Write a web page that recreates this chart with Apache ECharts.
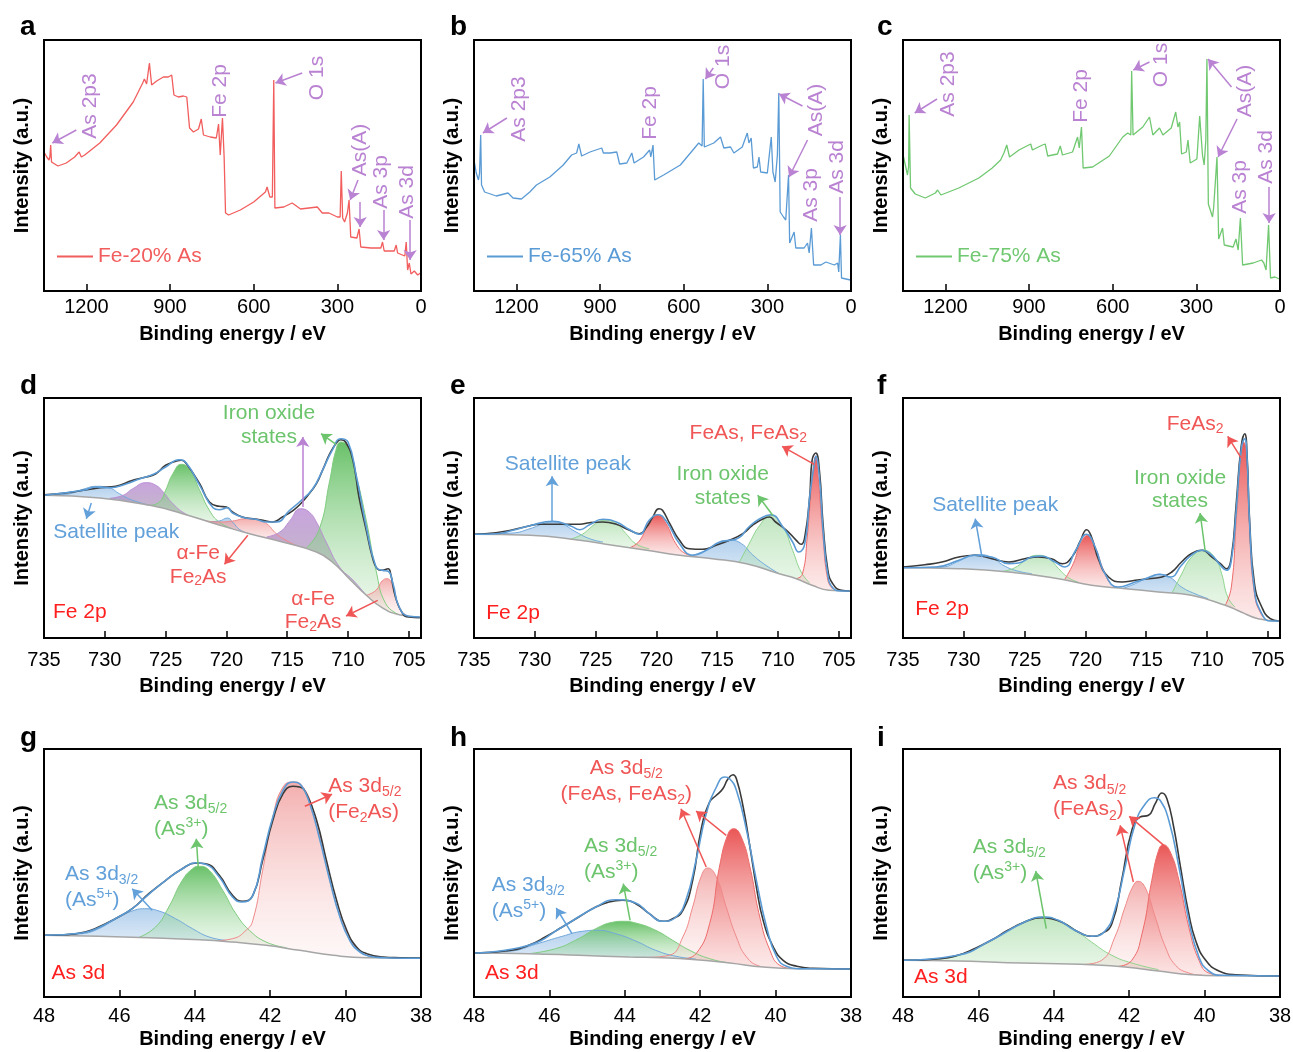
<!DOCTYPE html>
<html>
<head>
<meta charset="utf-8">
<title>XPS spectra</title>
<script src="https://cdn.jsdelivr.net/npm/echarts@6/dist/echarts.min.js"></script>
<style>
html, body { margin: 0; padding: 0; background: #fff; }
#main { width: 1293px; height: 1052px; }
</style>
</head>
<body>
<div id="main"></div>
<script>
// tick values
var surveyTicks = [0, 300, 600, 900, 1200];
var fe2pTicks = [705, 710, 715, 720, 725, 730, 735];
var as3dTicks = [38, 40, 42, 44, 46, 48];

// survey spectra  [binding energy eV, intensity a.u.]
var surveyA = [[1350,138],[1342,134],[1334,131],[1331,134],[1328,146],[1325,129],[1318,127],[1302,125],[1272,128],[1242,134],[1226,139],[1218,134],[1206,136],[1152,148],[1092,166],[1032,189],[998,208],[992,212],[984,207],[974,228],[966,206],[948,210],[924,214],[906,214],[894,216],[886,196],[870,194],[852,195],[840,194],[830,163],[816,159],[798,162],[788,172],[780,156],[756,154],[734,153],[726,167],[720,136],[712,173],[706,134],[701,78],[690,76],[648,81],[600,89],[558,99],[552,104],[542,94],[533,94],[528,211],[524,83],[492,84],[462,88],[432,82],[372,84],[354,78],[330,78],[300,74],[290,74],[286,120],[281,73],[274,69],[264,78],[258,91],[252,54],[230,53],[222,62],[216,44],[180,43],[144,43],[138,49],[132,40],[96,40],[89,46],[84,38],[58,35],[53,49],[48,21],[42,28],[36,17],[24,20],[12,16],[2,18]];
var surveyB = [[1350,128],[1344,118],[1336,111],[1332,118],[1328,156],[1325,106],[1314,99],[1272,95],[1230,98],[1224,99],[1212,93],[1182,92],[1152,99],[1128,106],[1080,114],[1032,126],[1002,136],[984,138],[976,147],[966,135],[936,139],[894,143],[888,138],[864,138],[840,139],[830,127],[804,128],[786,138],[778,128],[744,134],[722,141],[718,134],[710,146],[704,111],[672,116],[612,126],[558,144],[546,148],[534,145],[530,212],[526,144],[492,148],[468,154],[456,143],[432,144],[420,138],[390,144],[372,158],[366,148],[358,153],[350,123],[336,124],[330,134],[324,119],[300,118],[286,154],[280,119],[272,109],[264,136],[259,198],[254,79],[242,74],[234,71],[224,116],[220,48],[204,59],[198,43],[168,43],[156,48],[150,38],[142,63],[134,26],[108,26],[90,29],[60,26],[48,28],[44,19],[38,56],[34,13],[18,12],[2,11]];
var surveyC = [[1350,134],[1342,124],[1336,116],[1332,124],[1330,176],[1325,103],[1308,97],[1272,93],[1236,98],[1228,101],[1216,96],[1152,103],[1080,113],[1032,123],[1002,131],[990,138],[980,146],[970,134],[936,141],[894,147],[888,141],[852,146],[842,147],[833,135],[798,137],[788,145],[780,136],[744,139],[726,154],[720,143],[712,164],[706,123],[672,124],[612,135],[564,154],[546,158],[535,156],[532,220],[527,156],[492,164],[468,174],[456,156],[432,163],[420,156],[390,163],[374,179],[366,164],[360,169],[353,137],[336,139],[330,151],[322,128],[298,132],[288,175],[278,136],[272,126],[266,151],[262,232],[257,87],[242,74],[238,83],[233,84],[226,134],[220,52],[206,63],[200,46],[168,44],[158,52],[150,41],[142,73],[134,26],[96,28],[66,31],[58,28],[50,21],[41,66],[34,13],[18,14],[2,12]];

// Fe 2p, Fe-20% As
var fe2pD_bg = [[735,142.7],[730.4,140],[726.3,132.7],[723.6,124.3],[720.8,113.7],[718.1,104.3],[715.4,96],[712.6,86],[711.3,76],[709.9,59.3],[708.5,42.7],[707.2,30.3],[705.8,23.3],[704,21]];
var fe2pD_exp = [[735,143.3],[733.2,145],[730.4,150.3],[729.1,151.7],[727.7,157.7],[726.6,161],[725.8,164.3],[725,172.7],[724.1,177],[723.7,177.7],[723.3,174.3],[722.2,154.3],[721.4,136],[720.6,131.7],[720,131],[719.5,126],[718.7,121],[717.8,119.3],[717,117.7],[716.2,116],[715.4,121],[714.5,127.7],[713.9,134.3],[713.2,144.3],[712.6,154.3],[712.1,167.7],[711.5,184.3],[711,194.3],[710.6,198.3],[710.2,196],[709.6,177.7],[709.1,141],[708.5,107.7],[708,81],[707.6,69.3],[707.2,67.7],[706.7,69.3],[706.5,64.3],[706.1,41],[705.5,24.3],[705,21],[704.1,20.3]];
var fe2pD_env = [[735,142.7],[731.8,147.7],[730.7,151],[729.6,150.3],[728.2,154.3],[727.1,159.3],[726,163.7],[725,171],[723.9,178.3],[723.3,175],[722.2,152.7],[721.1,130.3],[720.6,128.3],[719.9,130.3],[719.5,125],[718.4,120],[717.6,118.7],[716.7,116],[715.9,116],[714.8,127.7],[713.9,137],[712.9,149.3],[712.1,167.7],[711.3,187.7],[710.6,199.3],[710,196],[709.3,161],[708.5,111],[707.7,71],[707.2,67.7],[706.7,66.7],[706.3,54.3],[705.8,31],[705,21.7],[704.1,21]];
var fe2pD_sat = [[735,142.7],[733.2,143.7],[731.8,148.7],[730.7,151.7],[729.6,150],[728.8,144.3],[727.7,137.7],[726.3,132.7]];
var fe2pD_ox1 = [[729.6,139.7],[728.5,142.7],[727.7,149.3],[726.6,155.3],[725.8,152.7],[725.2,146],[724.4,134.3],[723.3,123.7],[722.2,119],[720.8,113.7]];
var fe2pD_ox2 = [[726.3,132.7],[725.5,136],[725,147.7],[724.4,164.3],[723.7,173.7],[723,167.7],[722.2,147.7],[721.4,127.7],[720.6,116],[719.5,109.3]];
var fe2pD_sat2 = [[721.4,116.3],[720.6,117],[719.9,120],[719.5,116],[718.9,108.3],[718.1,104.3]];
var fe2pD_fe1 = [[722.2,119],[720.8,116],[719.5,117],[718.4,119.3],[717.6,119],[716.7,114.3],[715.9,104.3],[715.1,97.7],[714,91]];
var fe2pD_ox3 = [[716.7,101],[715.6,106],[714.8,117],[713.9,129.3],[713.2,126],[712.6,116],[711.8,96],[710.7,71],[709.6,58],[708.5,42.7]];
var fe2pD_ox4 = [[713.5,89],[712.4,107.7],[711.5,157.7],[711,187.7],[710.6,196],[710,191],[709.3,161],[708.5,117.7],[707.7,67.7],[706.9,34.3],[705.8,23.3]];
var fe2pD_fe2 = [[708.5,42.7],[707.7,47.7],[707.2,57],[706.8,59.3],[706.3,51],[705.8,30.3],[705.2,22.7],[704.7,21]];

// Fe 2p, Fe-65% As
var fe2pE_bg = [[735,103.7],[730.4,102.7],[726.3,97.7],[723.6,92.7],[720.8,87.7],[718.1,82.7],[715.4,79.3],[712.6,74.3],[709.9,64.3],[708.5,59.3],[707.2,52.7],[705.8,47.7],[704.1,47]];
var fe2pE_exp = [[735,103.7],[733.2,105.3],[731.8,108.3],[730.4,112.3],[729.6,113.7],[728.5,113.7],[727.1,113.7],[726.3,113.7],[725.5,115.3],[724.4,116],[723.3,113.7],[722.2,107.7],[721.4,104.3],[720.8,111],[720.3,121],[719.8,129.3],[719.5,127.7],[718.9,114.3],[718.1,97.7],[717.3,89.3],[716.2,88.7],[715.1,92.7],[714,97.7],[712.9,104.3],[712.1,112.7],[711.3,118.7],[710.7,121],[710.2,116],[709.3,107.7],[708.5,97.7],[708.1,93.7],[707.8,101],[707.4,141],[707.2,177.7],[706.9,185],[706.6,167.7],[706.3,114.3],[705.9,67.7],[705.5,54.3],[704.8,47.7],[704.1,47]];
var fe2pE_env = [[735,103.7],[733.2,104.3],[731.8,107.7],[730.4,112.3],[728.5,116.7],[727.1,112.3],[726.3,108.3],[725.5,113.3],[724.4,118.7],[723.3,116],[722.2,108.3],[721.4,103.7],[720.6,117.7],[719.9,123.3],[719.2,117],[718.1,94.3],[717,82.7],[715.9,87.7],[714.8,96],[714,97.7],[713.2,100.3],[712.4,111],[711.5,119.3],[710.6,123.3],[709.6,111],[708.8,96],[708.3,86],[707.8,94.3],[707.4,141],[707,176],[706.9,181.7],[706.6,161],[706.3,107.7],[705.9,62.7],[705.5,50.3],[704.8,47],[704.1,47]];
var fe2pE_sat = [[734.5,103.7],[731.8,105],[730.4,109.3],[729.3,114.3],[728.6,116],[727.7,113.7],[726.6,106],[725.5,99.3],[724.4,96]];
var fe2pE_ox1 = [[727.1,98.7],[726.1,103.7],[725,114.3],[724.3,117.7],[723.3,114.3],[722.5,104.3],[721.7,94.3],[720.6,89.3]];
var fe2pE_fe1 = [[722.2,90.3],[721.4,97],[720.6,116],[719.9,123.3],[719.2,114.3],[718.4,94.3],[717.6,84.3],[716.7,81.7]];
var fe2pE_sat2 = [[717.3,81.7],[715.9,87.7],[714.8,95],[713.9,97.7],[713,94.3],[712.1,83.3],[711,72.7],[709.9,64.3]];
var fe2pE_ox2 = [[713.2,75.3],[712.4,93.7],[711.5,112.7],[710.6,122.7],[709.6,111],[708.8,87.7],[708.1,66],[707.4,55]];
var fe2pE_fe2 = [[708.5,59.3],[708,63.7],[707.6,101],[707.2,157.7],[706.9,181.7],[706.7,161],[706.3,101],[705.9,57.7],[705.5,49]];

// Fe 2p, Fe-75% As
var fe2pF_bg = [[735,70.3],[730.4,69.3],[726.3,66],[722.2,59.3],[719.5,52.7],[716.7,49.3],[714,46],[711.3,42.7],[708.5,32.7],[707.2,26],[705.8,19.3],[704.1,17]];
var fe2pF_exp = [[735,71],[733.2,73.3],[731.8,76],[730.4,81],[729.1,82.7],[727.7,79.3],[726.3,76],[725,79.3],[723.9,81],[722.8,79.3],[721.9,74.3],[721.1,81],[720.4,97.7],[719.9,108.3],[719.5,101],[718.9,77.7],[718.1,61],[717,56],[715.9,57.7],[714.8,59.3],[713.7,61],[712.9,66],[712.1,76],[711.3,84.3],[710.4,87.7],[709.6,81],[708.9,74.3],[708.4,69.3],[708,81],[707.6,134.3],[707.2,191],[706.9,204.3],[706.7,181],[706.5,117.7],[706.1,54.3],[705.5,31],[704.8,19.3],[704.1,17]];
var fe2pF_env = [[735,70.3],[732.3,71],[730.4,77.7],[729.1,82.7],[727.7,81],[726.3,74.3],[725.5,75],[724.4,81],[723.6,82],[722.5,76],[721.7,71],[720.8,87.7],[719.9,103.7],[719.2,91],[718.4,64.3],[717.3,51],[715.9,56],[714.8,60.3],[713.9,63.7],[713,61],[712.1,72.7],[711.3,82.7],[710.4,87.7],[709.6,82.7],[708.9,72.7],[708.4,67.7],[708,77.7],[707.6,127.7],[707.2,187.7],[706.9,199.3],[706.7,177.7],[706.5,114.3],[706.1,47.7],[705.5,24.3],[704.8,17],[704.1,17]];
var fe2pF_sat = [[734.5,70.3],[731.8,71],[730.4,77],[729.5,82.3],[728.6,83.3],[727.7,80.3],[726.6,71.7],[725.5,66.7],[724.4,64.3]];
var fe2pF_ox1 = [[726.9,66.5],[725.8,70.3],[724.7,80],[723.9,82.7],[723,79.3],[722.2,69.3],[721.4,60.3],[720.6,56]];
var fe2pF_fe1 = [[721.7,58.7],[721,74.3],[720.4,94.3],[719.8,102.7],[719.2,91],[718.5,67.7],[717.8,52.7],[717,49.3]];
var fe2pF_sat2 = [[717,49.3],[715.9,54.3],[714.8,61],[713.9,63.7],[713,60.3],[712.1,51],[711,44.3],[709.9,39.3]];
var fe2pF_ox2 = [[712.9,44.3],[712.1,63.7],[711.3,80.3],[710.3,87.7],[709.3,79.3],[708.8,64.3],[708.3,41],[707.7,31]];
var fe2pF_fe2 = [[708.5,32.7],[708,51],[707.6,117.7],[707.2,181],[707,196],[706.7,177.7],[706.5,111],[706.1,44.3],[705.5,22.7],[705,17.7]];

// As 3d, Fe-20% As
var as3dG_bg = [[48,61.7],[46.55,60.7],[45.22,59.3],[43.88,57.3],[43,55],[42.11,51.7],[41.22,46.7],[40.33,41.7],[39.44,39.3],[38,39]];
var as3dG_exp = [[48,61.7],[47.44,62.3],[46.91,65],[46.55,70],[46.11,78.3],[45.66,88.3],[45.22,103.3],[44.77,116.7],[44.33,128.3],[43.97,134],[43.71,133.3],[43.35,121.7],[43,101.7],[42.73,95.7],[42.46,101.7],[42.2,136.7],[41.93,176.7],[41.66,203.3],[41.4,210.7],[41.22,210],[41.04,203.3],[40.77,176.7],[40.51,136.7],[40.24,96.7],[39.97,66.7],[39.71,50],[39.44,43.3],[39,40],[38.55,39.3],[38,39]];
var as3dG_env = [[48,61.7],[47,64],[46.55,69.3],[46.11,78.3],[45.66,88.3],[45.22,102.7],[44.77,116.7],[44.33,128.3],[43.97,134.3],[43.71,132.7],[43.35,120],[43,100],[42.75,95],[42.46,101.7],[42.2,140],[41.93,180],[41.66,206.7],[41.4,215],[41.18,211.7],[40.95,193.3],[40.68,156.7],[40.42,116.7],[40.15,80],[39.89,56.7],[39.62,45],[39.35,40.7],[39,39.3],[38,38.7]];
var as3dG_as5 = [[47.88,61.7],[47,63.3],[46.55,68.3],[46.11,78],[45.66,86],[45.33,88.3],[44.95,86],[44.51,78.3],[44.06,68.3],[43.62,60],[43.18,56.7]];
var as3dG_as3 = [[45.48,59.7],[45.04,70],[44.69,90],[44.33,116.7],[44.06,128.3],[43.88,130.7],[43.62,126.7],[43.26,106.7],[42.91,83.3],[42.55,66.7],[42.11,55],[41.57,49.3]];
var as3dG_fe2as = [[43.53,56],[43,58.3],[42.64,66.7],[42.46,76.7],[42.2,126.7],[41.93,180],[41.66,210],[41.38,215],[41.13,210],[40.86,186.7],[40.59,146.7],[40.33,103.3],[40.06,73.3],[39.8,53.3],[39.44,41.7],[39,39.3]];

// As 3d, Fe-65% As
var as3dH_bg = [[48,44],[46.55,43.3],[45.22,41.7],[43.88,40],[43,39.3],[42.11,37.3],[41.22,34],[40.33,30],[39.44,28.3],[38,28]];
var as3dH_exp = [[48,44],[47,46.7],[46.55,51.7],[46.11,60],[45.66,70],[45.22,80],[44.77,90],[44.42,95],[44.06,96.7],[43.71,93.3],[43.35,83.3],[43,75.7],[42.73,78.3],[42.46,86.7],[42.2,116.7],[41.98,166.7],[41.75,195],[41.57,201.7],[41.4,208.3],[41.26,218.3],[41.13,222.3],[41.04,218.3],[40.86,190],[40.68,150],[40.51,110],[40.33,76.7],[40.06,50],[39.8,36.7],[39.44,30.7],[39,28.7],[38,28]];
var as3dH_env = [[48,44],[46.55,51.7],[45.66,70],[44.77,90],[44.24,97.3],[43.71,94],[43.35,83.3],[43,75.7],[42.64,80],[42.38,96.7],[42.11,136.7],[41.84,183.3],[41.57,210],[41.35,220],[41.22,218.3],[41.04,206.7],[40.77,166.7],[40.51,116.7],[40.24,70],[39.97,40],[39.71,30.7],[39.35,28.3],[38,28]];
var as3dH_as5 = [[47.88,44],[47,46],[46.37,52.7],[45.66,60.7],[45.13,65.7],[44.73,66.7],[44.24,63.3],[43.71,56],[43.18,46.7],[42.64,40.7],[42.11,38]];
var as3dH_as3 = [[46.55,43.3],[45.84,48.3],[45.31,56.7],[44.77,68.3],[44.33,74.7],[44.06,75.7],[43.71,74],[43.18,66.7],[42.73,56.7],[42.28,46.7],[41.75,38.3],[41.22,34]];
var as3dH_feas1 = [[43.35,39.7],[42.82,41.7],[42.46,60],[42.2,90],[41.98,120],[41.8,129],[41.57,120],[41.31,90],[41.04,60],[40.77,40],[40.42,30.7],[40.06,28.3]];
var as3dH_feas2 = [[42.46,38],[42.11,43.3],[41.75,73.3],[41.49,130],[41.26,163.3],[41.11,168.3],[40.91,160],[40.68,130],[40.42,80],[40.15,46.7],[39.89,31.7],[39.53,28.3]];

// As 3d, Fe-75% As
var as3dI_bg = [[48,36.7],[46.55,36],[45.22,34.3],[43.88,33.3],[43,32.3],[42.11,30],[41.22,26],[40.33,22.3],[39.44,21.3],[38,21]];
var as3dI_exp = [[48,36.7],[47,38.3],[46.55,41.7],[46.11,48.3],[45.66,56.7],[45.22,66.7],[44.77,75],[44.33,79.3],[44.06,78.3],[43.71,73.3],[43.35,65],[43,60.7],[42.73,63.3],[42.46,73.3],[42.2,116.7],[41.93,166.7],[41.71,180],[41.49,181.7],[41.31,193.3],[41.13,204],[41,198.3],[40.82,170],[40.64,130],[40.42,83.3],[40.24,56.7],[39.97,36.7],[39.62,26],[39.17,22.3],[38,21]];
var as3dI_env = [[48,36.7],[46.55,41.7],[45.66,56.7],[44.77,75],[44.29,80],[43.88,76.7],[43.44,66.7],[43,60.7],[42.64,66],[42.38,86.7],[42.11,130],[41.84,173.3],[41.57,193.3],[41.33,199.3],[41.18,196.7],[40.95,176.7],[40.68,130],[40.42,76.7],[40.15,40],[39.89,26],[39.53,21.7],[38,21]];
var as3dI_as3 = [[47.88,36.7],[47,38.7],[46.37,43.3],[45.66,56.7],[45.04,70],[44.6,78],[44.27,80],[43.88,76.7],[43.44,67.3],[43,55],[42.46,41.7],[41.93,34],[41.22,27.3]];
var as3dI_feas1 = [[43.18,32.7],[42.73,36.7],[42.38,60],[42.11,90],[41.91,110],[41.77,115.7],[41.57,109],[41.31,80],[41.04,50],[40.77,31.7],[40.42,24],[40.06,21.7]];
var as3dI_feas2 = [[42.28,30.7],[41.93,36.7],[41.66,63.3],[41.4,116.7],[41.22,146.7],[41.1,152.3],[40.91,145],[40.68,116.7],[40.42,70],[40.15,36.7],[39.89,24],[39.53,21.7]];

var PURPLE = '#b982d2', GREEN_T = '#6cc46c', BLUE_T = '#62a0da', RED_T = '#f05656', PANEL_RED = '#ff1f1f';

// annotations: [panel, energy, intensity, text, colour, align, rotate]
var notes = [
    [0, 1188, 185, 'As 2p3', PURPLE, 'center', 90],
    [0, 720, 200, 'Fe 2p', PURPLE, 'center', 90],
    [0, 372, 213, 'O 1s', PURPLE, 'center', 90],
    [0, 218, 141, 'As(A)', PURPLE, 'center', 90],
    [0, 144, 109, 'As 3p', PURPLE, 'center', 90],
    [0, 48, 99, 'As 3d', PURPLE, 'center', 90],
    [1, 1190, 182, 'As 2p3', PURPLE, 'center', 90],
    [1, 720, 178, 'Fe 2p', PURPLE, 'center', 90],
    [1, 458, 224, 'O 1s', PURPLE, 'center', 90],
    [1, 126, 181, 'As(A)', PURPLE, 'center', 90],
    [1, 144, 96, 'As 3p', PURPLE, 'center', 90],
    [1, 48, 124, 'As 3d', PURPLE, 'center', 90],
    [2, 1190, 207, 'As 2p3', PURPLE, 'center', 90],
    [2, 714, 195, 'Fe 2p', PURPLE, 'center', 90],
    [2, 426, 226, 'O 1s', PURPLE, 'center', 90],
    [2, 126, 200, 'As(A)', PURPLE, 'center', 90],
    [2, 144, 104, 'As 3p', PURPLE, 'center', 90],
    [2, 48, 134, 'As 3d', PURPLE, 'center', 90],
    [3, 716.5, 212.7, 'Iron oxide\nstates', GREEN_T, 'center'],
    [3, 729.06, 106, 'Satellite peak', BLUE_T, 'center'],
    [3, 722.32, 73, '\u03b1-Fe\nFe{sub|2}As', RED_T, 'center'],
    [3, 712.87, 27.5, '\u03b1-Fe\nFe{sub|2}As', RED_T, 'center'],
    [3, 734.26, 26, 'Fe 2p', PANEL_RED, 'left'],
    [4, 727.28, 173.3, 'Satellite peak', BLUE_T, 'center'],
    [4, 712.44, 205, 'FeAs, FeAs{sub|2}', RED_T, 'center'],
    [4, 714.55, 152, 'Iron oxide\nstates', GREEN_T, 'center'],
    [4, 734.0, 25, 'Fe 2p', PANEL_RED, 'left'],
    [5, 710.98, 213.7, 'FeAs{sub|2}', RED_T, 'center'],
    [5, 712.22, 148.3, 'Iron oxide\nstates', GREEN_T, 'center'],
    [5, 727.42, 132.7, 'Satellite peak', BLUE_T, 'center'],
    [5, 734.0, 28.3, 'Fe 2p', PANEL_RED, 'left'],
    [6, 47.44, 110, 'As 3d{sub|3/2}\n(As{sup|5+})', BLUE_T, 'left'],
    [6, 45.08, 180.7, 'As 3d{sub|5/2}\n(As{sup|3+})', GREEN_T, 'left'],
    [6, 40.46, 198, 'As 3d{sub|5/2}\n(Fe{sub|2}As)', RED_T, 'left'],
    [6, 47.8, 23.3, 'As 3d', PANEL_RED, 'left'],
    [7, 43.96, 215.8, 'As 3d{sub|5/2}\n(FeAs, FeAs{sub|2})', RED_T, 'center'],
    [7, 45.08, 137.8, 'As 3d{sub|5/2}\n(As{sup|3+})', GREEN_T, 'left'],
    [7, 47.53, 99.2, 'As 3d{sub|3/2}\n(As{sup|5+})', BLUE_T, 'left'],
    [7, 47.71, 23.3, 'As 3d', PANEL_RED, 'left'],
    [8, 44.02, 200.3, 'As 3d{sub|5/2}\n(FeAs{sub|2})', RED_T, 'left'],
    [8, 46.15, 136.7, 'As 3d{sub|5/2}\n(As{sup|3+})', GREEN_T, 'left'],
    [8, 47.71, 20, 'As 3d', PANEL_RED, 'left']
];

// arrows: [panel, from E, from y, to E, to y, colour]
var arrows = [
    [0, 1236, 161, 1322, 148, PURPLE], [0, 426, 218, 522, 208, PURPLE], [0, 226, 111, 254, 91, PURPLE],
    [0, 218, 89, 218, 64, PURPLE], [0, 134, 81, 134, 51, PURPLE], [0, 39, 71, 39, 31, PURPLE],
    [1, 1234, 173, 1320, 158, PURPLE], [1, 494, 223, 522, 212, PURPLE], [1, 174, 185, 258, 197, PURPLE],
    [1, 156, 151, 222, 114, PURPLE], [1, 39, 94, 39, 56, PURPLE],
    [2, 1230, 192, 1310, 178, PURPLE], [2, 468, 229, 526, 221, PURPLE], [2, 174, 204, 258, 232, PURPLE],
    [2, 154, 172, 222, 134, PURPLE], [2, 39, 104, 39, 68, PURPLE],
    [3, 710.99, 193.7, 712.22, 204.3, GREEN_T], [3, 713.72, 131, 713.72, 201, PURPLE],
    [3, 731.11, 135, 731.52, 119.3, BLUE_T], [3, 718.24, 102.7, 720.16, 73.7, RED_T],
    [3, 707.56, 37.7, 710.16, 22, RED_T],
    [4, 728.57, 116, 728.57, 161.7, BLUE_T], [4, 707.02, 173.7, 709.67, 191.7, RED_T],
    [4, 710.44, 122.7, 711.67, 142.7, GREEN_T],
    [5, 707.21, 180.3, 708.3, 201.7, RED_T], [5, 710.16, 87.7, 710.57, 125, GREEN_T],
    [5, 728.51, 81, 729.06, 119.3, BLUE_T],
    [6, 45.13, 86.7, 45.66, 108.3, BLUE_T], [6, 43.91, 130, 43.96, 158.3, GREEN_T],
    [6, 41.08, 190.7, 40.36, 202.7, RED_T],
    [7, 41.84, 130, 42.51, 188.3, RED_T], [7, 41.31, 161.7, 42.11, 186, RED_T],
    [7, 43.86, 76.7, 44.04, 113.3, GREEN_T], [7, 45.4, 63.3, 45.82, 89, BLUE_T],
    [8, 41.89, 115, 42.24, 171.7, RED_T], [8, 41.08, 151.7, 42.0, 180.7, RED_T],
    [8, 44.2, 68.3, 44.48, 126, GREEN_T]
];

var FONT = '"Liberation Sans", Arial, sans-serif';
var COLS = [44, 474, 903];
var ROWS = [
    {top: 40, height: 251, min: 0, max: 1352, ticks: surveyTicks, margin: 6, gap: 33, lh: 24},
    {top: 398, height: 240, min: 704, max: 735, ticks: fe2pTicks, margin: 12, gap: 38, lh: 23.5},
    {top: 749, height: 248, min: 38, max: 48, ticks: as3dTicks, margin: 9, gap: 32, lh: 26}
];
var STYLE = {
    blue:   {line: '#73a9dc', top: 'rgba(115,170,222,0.55)', bot: 'rgba(150,190,230,0.35)'},
    green:  {line: '#7fcc7f', top: 'rgba(88,186,88,0.9)', bot: 'rgba(185,228,185,0.25)'},
    pale:   {line: '#8ed48e', top: 'rgba(150,212,150,0.6)', bot: 'rgba(190,230,190,0.35)'},
    red:    {line: '#ee6b6b', top: 'rgba(232,72,72,0.92)', bot: 'rgba(245,170,170,0.25)'},
    pink:   {line: '#f08a8a', top: 'rgba(238,140,140,0.7)', bot: 'rgba(250,215,215,0.2)'},
    purple: {line: '#bb90d4', top: 'rgba(178,125,208,0.7)', bot: 'rgba(130,120,135,0.45)'}
};

var grid = [], xAxis = [], yAxis = [], series = [], legend = [], graphic = [];

function richFor(color) {
    return {
        sub: {fontSize: 14, lineHeight: 14, verticalAlign: 'bottom', color: color, fontFamily: FONT},
        sup: {fontSize: 14, lineHeight: 14, verticalAlign: 'top', color: color, fontFamily: FONT}
    };
}

function marksFor(p) {
    var lh = ROWS[Math.floor(p / 3)].lh;
    var data = notes.filter(function (n) { return n[0] === p; }).map(function (n) {
        var txt = n[3];
        return {
            coord: [n[1], n[2]], symbol: 'circle', symbolSize: 1,
            itemStyle: {color: 'rgba(0,0,0,0)'},
            label: {
                show: true, position: 'inside', formatter: function () { return txt; },
                color: n[4], align: n[5], rotate: n[6] || 0, fontSize: 21,
                fontFamily: FONT, lineHeight: lh, rich: richFor(n[4])
            }
        };
    });
    return {silent: true, animation: false, data: data};
}

function arrowsFor(p) {
    var data = arrows.filter(function (a) { return a[0] === p; }).map(function (a) {
        return [
            {coord: [a[1], a[2]], lineStyle: {color: a[5], width: 1.5, type: 'solid'}, itemStyle: {color: a[5]}},
            {coord: [a[3], a[4]]}
        ];
    });
    return {
        silent: true, animation: false, symbol: ['none', 'arrow'], symbolSize: 10,
        label: {show: false}, lineStyle: {type: 'solid', width: 1.5}, data: data
    };
}

for (var p = 0; p < 9; p++) {
    var r = ROWS[Math.floor(p / 3)];
    grid.push({
        left: COLS[p % 3], top: r.top, width: 377, height: r.height,
        show: true, borderColor: '#000', borderWidth: 2, backgroundColor: 'transparent',
        z: 10, containLabel: false, outerBoundsMode: 'none'
    });
    xAxis.push({
        type: 'value', gridIndex: p, inverse: true, min: r.min, max: r.max,
        name: 'Binding energy / eV', nameLocation: 'middle', nameGap: r.gap,
        nameTextStyle: {fontSize: 20, fontWeight: 'bold', color: '#000', fontFamily: FONT, lineHeight: 20},
        axisLine: {show: false},
        axisTick: {show: true, inside: true, length: 7, lineStyle: {color: '#000', width: 1.5}, customValues: r.ticks},
        axisLabel: {
            customValues: r.ticks, margin: r.margin, color: '#000', fontSize: 20, fontFamily: FONT, lineHeight: 20,
            formatter: function (v) { return String(v); }
        },
        splitLine: {show: false}, z: 11
    });
    yAxis.push({
        type: 'value', gridIndex: p, min: 0, max: r.height,
        name: 'Intensity (a.u.)', nameLocation: 'middle', nameGap: 12,
        nameTextStyle: {fontSize: 20, fontWeight: 'bold', color: '#000', fontFamily: FONT, lineHeight: 20},
        axisLine: {show: false}, axisTick: {show: false}, axisLabel: {show: false}, splitLine: {show: false}
    });
}

function surveyPanel(p, name, data, color) {
    series.push({
        type: 'line', name: name, xAxisIndex: p, yAxisIndex: p, data: data, symbol: 'none',
        color: color, lineStyle: {color: color, width: 1.3}, z: 4,
        markPoint: marksFor(p), markLine: arrowsFor(p)
    });
    legend.push({
        data: [name], left: COLS[p] + 13, top: 246, padding: 0, itemWidth: 36, itemHeight: 2,
        icon: 'rect', selectedMode: false,
        textStyle: {color: color, fontSize: 21, fontFamily: FONT}
    });
}

function fitPanel(p, comps, bg, exp, env) {
    comps.forEach(function (c) {
        var st = STYLE[c[1]];
        var ys = c[0].map(function (v) { return v[1]; });
        var hi = Math.max.apply(null, ys), lo = Math.min.apply(null, ys);
        var f = Math.max(0.05, Math.min(1, (hi - lo) / hi));
        series.push({
            type: 'line', xAxisIndex: p, yAxisIndex: p, data: c[0], symbol: 'none',
            smooth: 0.5, z: 2,
            lineStyle: {color: st.line, width: 1},
            areaStyle: {opacity: 1, color: {type: 'linear', x: 0, y: 0, x2: 0, y2: 1, colorStops: [
                {offset: 0, color: st.top}, {offset: f, color: st.bot}, {offset: 1, color: st.bot}]}}
        });
    });
    // background: its white area hides component fills below it
    series.push({
        type: 'line', xAxisIndex: p, yAxisIndex: p, data: bg, symbol: 'none', smooth: 0.5,
        z: 3, lineStyle: {color: '#a6a6a6', width: 1.5},
        areaStyle: {color: '#ffffff', opacity: 1}
    });
    series.push({
        type: 'line', xAxisIndex: p, yAxisIndex: p, data: exp, symbol: 'none', smooth: 0.5,
        z: 4, lineStyle: {color: '#3a3a3a', width: 1.6}
    });
    series.push({
        type: 'line', xAxisIndex: p, yAxisIndex: p, data: env, symbol: 'none', smooth: 0.5,
        z: 4, lineStyle: {color: '#5b9bd5', width: 1.6},
        markPoint: marksFor(p), markLine: arrowsFor(p)
    });
}

surveyPanel(0, 'Fe-20% As', surveyA, '#f25d5d');
surveyPanel(1, 'Fe-65% As', surveyB, '#5b9bd5');
surveyPanel(2, 'Fe-75% As', surveyC, '#70c870');

fitPanel(3, [[fe2pD_sat, 'blue'], [fe2pD_ox1, 'purple'], [fe2pD_ox2, 'green'], [fe2pD_sat2, 'blue'],
    [fe2pD_fe1, 'pink'], [fe2pD_ox3, 'purple'], [fe2pD_ox4, 'green'], [fe2pD_fe2, 'pink']],
    fe2pD_bg, fe2pD_exp, fe2pD_env);
fitPanel(4, [[fe2pE_sat, 'blue'], [fe2pE_ox1, 'pale'], [fe2pE_fe1, 'red'], [fe2pE_sat2, 'blue'],
    [fe2pE_ox2, 'pale'], [fe2pE_fe2, 'red']], fe2pE_bg, fe2pE_exp, fe2pE_env);
fitPanel(5, [[fe2pF_sat, 'blue'], [fe2pF_ox1, 'pale'], [fe2pF_fe1, 'red'], [fe2pF_sat2, 'blue'],
    [fe2pF_ox2, 'pale'], [fe2pF_fe2, 'red']], fe2pF_bg, fe2pF_exp, fe2pF_env);
fitPanel(6, [[as3dG_as5, 'blue'], [as3dG_as3, 'green'], [as3dG_fe2as, 'pink']],
    as3dG_bg, as3dG_exp, as3dG_env);
fitPanel(7, [[as3dH_as5, 'blue'], [as3dH_as3, 'green'], [as3dH_feas1, 'pink'], [as3dH_feas2, 'red']],
    as3dH_bg, as3dH_exp, as3dH_env);
fitPanel(8, [[as3dI_as3, 'pale'], [as3dI_feas1, 'pink'], [as3dI_feas2, 'red']],
    as3dI_bg, as3dI_exp, as3dI_env);

// panel letters
var letters = 'abcdefghi';
var letterTop = [13, 372, 724];
for (var k = 0; k < 9; k++) {
    graphic.push({
        type: 'text', left: [20, 450, 877][k % 3], top: letterTop[Math.floor(k / 3)],
        style: {text: letters[k], font: 'bold 28px ' + FONT, fill: '#000'}
    });
}

var chart = echarts.init(document.getElementById('main'));
chart.setOption({
    animation: false,
    backgroundColor: '#ffffff',
    textStyle: {fontFamily: FONT},
    grid: grid,
    xAxis: xAxis,
    yAxis: yAxis,
    legend: legend,
    graphic: graphic,
    series: series
});
</script>
</body>
</html>
